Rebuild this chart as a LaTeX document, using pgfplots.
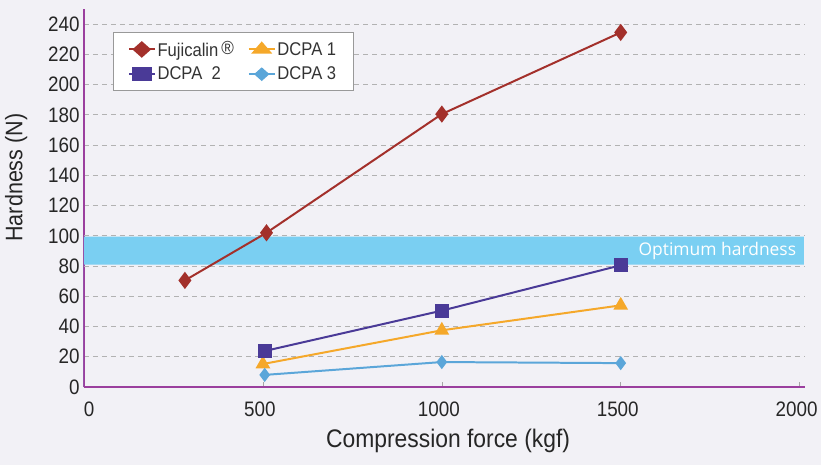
\documentclass[border=0pt]{standalone}
\usepackage{pgfplots}
\pgfplotsset{compat=1.18}
\usepackage{fontspec}
\setmainfont{Liberation Sans}[FakeStretch=0.9]
\newfontfamily\bandfont{Open Sans}
\definecolor{bg}{HTML}{F2F1F6}
\definecolor{axpurple}{HTML}{9B3F9E}
\definecolor{fuji}{HTML}{A3302B}
\definecolor{dcpaone}{HTML}{F5A82A}
\definecolor{dcpatwo}{HTML}{4A3A97}
\definecolor{dcpathree}{HTML}{5BA6D9}
\definecolor{band}{HTML}{7ACFF2}
\begin{document}
\begin{tikzpicture}
% page background, axis box sits at (0,0) -- (721bp,378bp)
\fill[bg] (-84bp,-78bp) rectangle (737bp,387bp);
\begin{axis}[
  scale only axis,
  width=721bp, height=378bp,
  xmin=0, xmax=2015, ymin=0, ymax=250,
  axis x line*=bottom, axis y line*=left,
  axis line style={axpurple, line width=1.6pt, -},
  xtick={0,500,1000,1500,2000},
  xticklabels={\hspace*{16bp}0,500,1000,1500,2000},
  ytick={0,20,...,240},
  tick align=inside,
  major tick length=5bp,
  xtick style={gray!70, line width=0.6pt},
  ytick style={draw=none},
  ymajorgrids,
  major grid style={gray!60, dashed, line width=0.7pt, dash pattern=on 5bp off 4bp},
  /pgf/number format/assume math mode=true,
  /pgf/number format/1000 sep={},
  tick label style={font=\fontsize{21}{24}\selectfont, text=black!85},
  xticklabel style={yshift=-11bp, xshift=-3bp},
  yticklabel style={xshift=-1bp},
  xlabel={Compression force (kgf)},
  ylabel={Hardness (N)},
  every axis x label/.style={at={(axis description cs:0.505,-0.142)}, anchor=center,
    font=\fontsize{25.5}{28}\selectfont, text=black!85},
  every axis y label/.style={at={(axis description cs:-0.094,0.554)}, anchor=center, rotate=90,
    font=\fontsize{24}{27}\selectfont, text=black!85},
  legend columns=2,
  legend style={at={(rel axis cs:0.04,0.94)}, anchor=north west,
    draw=gray!80, fill=white, font=\fontsize{18.5}{21}\selectfont, text=black!80,
    inner xsep=15bp, inner ysep=7bp, row sep=5bp,
    /tikz/every even column/.append style={column sep=12bp}},
  legend image post style={xscale=1.5},
  legend cell align=left,
]
\addplot[draw=none, fill=band, forget plot] coordinates {(0,81) (2012,81) (2012,99.5) (0,99.5)} \closedcycle;
\draw[gray!60, line width=0.7pt, dash pattern=on 5bp off 4bp] (axis cs:0,80) -- (axis cs:2015,80);
\draw[gray!60, line width=0.7pt, dash pattern=on 5bp off 4bp] (axis cs:0,100) -- (axis cs:2015,100);
\node[anchor=east, text=white, font=\bandfont\fontsize{17.5}{20}\selectfont] at (axis cs:2000,90) {Optimum hardness};

\addplot[fuji, line width=2pt, mark=diamond*, mark size=7bp] coordinates {(282,70.5) (510,102) (1000,180.5) (1500,234.5)};
\addlegendentry{Fujicalin\,\raisebox{0.25ex}{\fontsize{19}{21}\selectfont ®}}
\addplot[dcpaone, line width=2pt, mark=triangle*, mark size=6.5bp] coordinates {(500,15.2) (1000,37.5) (1500,54)};
\addlegendentry{DCPA 1}
\addplot[dcpatwo, line width=2pt, mark=square*, mark size=6bp] coordinates {(505,23.8) (1000,50.5) (1500,80.5)};
\addlegendentry{DCPA\ \ 2}
\addplot[dcpathree, line width=2pt, mark=diamond*, mark size=5.5bp] coordinates {(505,8) (1000,16.5) (1500,15.8)};
\addlegendentry{DCPA 3}
\end{axis}
\pgfresetboundingbox
\path[use as bounding box] (-84bp,-78bp) rectangle (737bp,387bp);
\end{tikzpicture}
\end{document}
